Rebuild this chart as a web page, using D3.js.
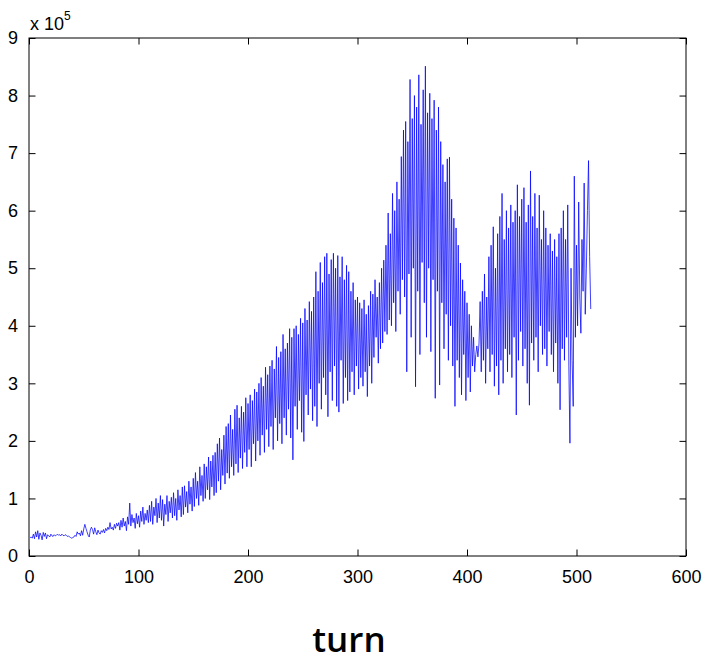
<!DOCTYPE html>
<html><head><meta charset="utf-8">
<script src="https://cdn.jsdelivr.net/npm/d3@7/dist/d3.min.js"></script>
<style>body{margin:0;background:#fff}svg{display:block}</style>
</head><body>
<script>
// values in units of 1e5, one per turn starting at turn 1
const values = [
0.32,0.33,0.31,0.38,0.30,0.42,0.33,0.44,0.29,0.40,
0.36,0.28,0.41,0.34,0.40,0.30,0.37,0.35,0.33,0.38,
0.35,0.34,0.37,0.35,0.36,0.38,0.36,0.37,0.35,0.38,
0.36,0.35,0.37,0.36,0.34,0.35,0.33,0.32,0.31,0.32,
0.33,0.36,0.34,0.42,0.38,0.40,0.35,0.44,0.36,0.47,
0.55,0.48,0.42,0.36,0.33,0.45,0.50,0.46,0.38,0.49,
0.42,0.37,0.45,0.40,0.38,0.44,0.41,0.46,0.40,0.48,
0.44,0.50,0.46,0.58,0.47,0.50,0.45,0.55,0.48,0.57,
0.52,0.58,0.45,0.62,0.50,0.66,0.52,0.60,0.44,0.68,
0.55,0.92,0.52,0.72,0.58,0.66,0.48,0.74,0.56,0.70,
0.50,0.78,0.60,0.85,0.55,0.74,0.62,0.80,0.58,0.88,
0.60,0.95,0.55,0.85,0.70,1.00,0.58,0.92,0.66,1.05,
0.62,0.98,0.52,0.90,0.72,1.05,0.60,0.95,0.75,1.02,
0.66,1.10,0.70,1.00,0.62,1.15,0.80,1.05,0.68,1.20,
0.72,1.22,0.85,1.12,0.75,1.30,0.90,1.20,0.78,1.35,
0.86,1.45,1.00,1.30,0.88,1.55,1.05,1.40,0.95,1.60,
1.00,1.55,1.15,1.72,0.98,1.65,1.20,1.75,1.05,1.80,
1.10,1.95,1.30,2.05,1.15,1.85,1.40,2.10,1.25,2.25,
1.44,2.30,1.35,2.45,1.55,2.20,1.40,2.55,1.60,2.62,
1.45,2.40,1.70,2.60,1.52,2.50,1.80,2.75,1.55,2.65,
1.85,2.80,1.55,2.70,1.95,2.90,1.65,2.85,2.00,3.00,
1.75,3.10,2.10,2.95,1.80,3.28,2.20,3.15,1.90,3.30,
2.25,3.40,1.85,3.25,2.40,3.64,2.00,3.45,2.30,3.55,
1.95,3.85,2.40,3.60,2.10,3.70,2.55,3.95,2.05,3.80,
1.67,3.95,2.60,4.00,2.20,3.85,2.70,4.13,2.15,4.05,
1.99,4.30,2.80,4.10,2.45,4.42,2.90,4.25,2.35,4.50,
2.60,4.94,2.25,4.60,3.00,5.10,2.55,4.75,3.10,5.20,
2.80,5.26,2.42,4.90,3.20,5.15,2.70,5.26,3.30,5.00,
2.60,5.22,2.50,4.85,3.40,5.20,2.65,4.80,3.10,5.05,
2.70,4.94,2.85,4.60,3.20,4.75,2.80,4.45,3.30,4.50,
2.90,4.40,3.10,4.30,2.95,4.45,3.20,4.20,2.77,4.35,
3.30,4.60,3.00,4.55,3.45,4.80,3.80,4.50,3.35,4.75,
3.60,5.00,3.70,5.14,3.90,5.40,3.85,5.96,4.10,5.60,
4.00,6.30,4.40,6.00,3.90,6.50,4.60,6.20,4.20,6.94,
4.80,7.40,4.50,7.55,3.20,7.20,4.90,8.28,3.80,7.60,
5.00,8.00,2.94,7.80,4.60,8.36,3.50,7.50,5.10,8.10,
4.40,8.51,3.80,7.70,5.00,8.04,3.55,7.60,4.80,7.92,
2.74,7.40,4.60,7.80,2.97,7.20,4.40,6.80,3.60,6.50,
4.20,6.90,3.40,6.93,4.00,6.20,3.30,5.87,2.60,5.70,
3.40,5.40,3.10,5.09,2.80,4.80,3.50,4.60,2.70,4.40,
3.10,4.20,2.85,4.00,3.30,3.80,3.20,3.50,3.65,3.46,
3.70,4.42,3.20,4.60,3.40,4.90,3.00,4.50,3.60,5.20,
3.20,5.40,3.50,5.72,2.95,5.00,3.30,5.60,2.80,5.90,
3.40,6.30,3.00,5.50,3.60,6.00,3.20,5.70,3.50,6.10,
3.10,5.80,3.80,6.00,2.45,6.45,3.40,5.90,3.90,6.20,
3.30,6.40,3.60,5.80,3.00,6.10,2.62,6.69,3.70,5.90,
3.40,6.30,3.80,5.70,3.20,6.27,4.00,5.50,3.50,6.00,
3.60,5.70,3.30,5.40,3.90,5.60,3.50,5.30,3.20,5.50,
3.70,5.20,3.00,5.60,2.54,5.70,3.60,6.00,3.40,5.50,
3.80,6.10,3.30,1.96,5.00,3.40,2.60,6.60,3.80,5.40,
4.00,6.15,4.50,3.87,5.50,4.60,6.48,4.20,5.00,6.00,
6.87,5.20,4.29
];
const xTicks = [0,100,200,300,400,500,600];
const yTicks = [0,1,2,3,4,5,6,7,8,9];
const xLabel = "turn";
const exponentBase = "x 10";
const exponentPower = "5";

const W = 706, H = 665;
const L = 29, R = 686, T = 38, B = 556;
const svg = d3.select("body").append("svg").attr("width", W).attr("height", H);
const x = d3.scaleLinear().domain([0, 600]).range([L, R]);
const y = d3.scaleLinear().domain([0, 9]).range([B, T]);

const line = d3.line().x((d, i) => x(i + 1)).y(d => y(d));
svg.append("path").datum(values).attr("d", line)
  .attr("fill", "none").attr("stroke", "#0000ff").attr("stroke-width", 0.75);

const tickLen = 6.5;
const font = "'Liberation Sans', Arial, sans-serif";
svg.append("g").attr("transform", `translate(0,${B})`)
  .call(d3.axisBottom(x).tickValues(xTicks).tickSize(-tickLen).tickPadding(14).tickFormat(d3.format("d")))
  .call(g => { g.select(".domain").remove(); g.selectAll("text").attr("font-family", font).attr("font-size", 18).attr("fill", "#000"); });
svg.append("g").attr("transform", `translate(0,${T})`)
  .call(d3.axisTop(x).tickValues(xTicks).tickSize(-tickLen).tickFormat(""))
  .call(g => g.select(".domain").remove());
svg.append("g").attr("transform", `translate(${L},0)`)
  .call(d3.axisLeft(y).tickValues(yTicks).tickSize(-tickLen).tickPadding(11).tickFormat(d3.format("d")))
  .call(g => { g.select(".domain").remove(); g.selectAll("text").attr("font-family", font).attr("font-size", 18).attr("fill", "#000"); });
svg.append("g").attr("transform", `translate(${R},0)`)
  .call(d3.axisRight(y).tickValues(yTicks).tickSize(-tickLen).tickFormat(""))
  .call(g => g.select(".domain").remove());
svg.append("rect").attr("x", L).attr("y", T).attr("width", R - L).attr("height", B - T)
  .attr("fill", "none").attr("stroke", "#000").attr("stroke-width", 1);

const ex = svg.append("text").attr("x", 30).attr("y", 30).attr("font-family", font).attr("font-size", 18).attr("fill", "#000");
ex.append("tspan").text(exponentBase);
ex.append("tspan").attr("dy", -10).attr("font-size", 12).text(exponentPower);

svg.append("text").attr("x", 349).attr("y", 652).attr("text-anchor", "middle")
  .attr("font-family", "'Open Sans', sans-serif").attr("font-size", 35).attr("font-weight", 600)
  .attr("fill", "#000").text(xLabel);
</script>
</body></html>
